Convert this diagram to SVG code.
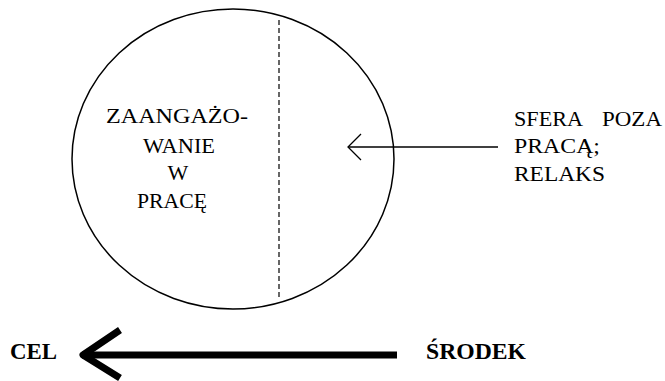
<svg xmlns="http://www.w3.org/2000/svg" width="665" height="381" viewBox="0 0 665 381">
<style>
text{font-family:'Liberation Serif','Times New Roman',serif;fill:#000}
.t{font-size:22px}
.b{font-size:23px;font-weight:bold}
.c{text-anchor:middle}
</style>
<rect width="665" height="381" fill="#fff"/>
<g id="circle">
<ellipse cx="233" cy="159" rx="161" ry="150" fill="none" stroke="#000" stroke-width="1.5"/>
<line x1="279" y1="20" x2="279" y2="297" stroke="#000" stroke-width="1.2" stroke-dasharray="5,3"/>
<text class="t c" x="177" y="123" textLength="142" lengthAdjust="spacingAndGlyphs">ZAANGAŻO-</text>
<text class="t c" x="179" y="153" textLength="72" lengthAdjust="spacingAndGlyphs">WANIE</text>
<text class="t c" x="178" y="180">W</text>
<text class="t c" x="172" y="208" textLength="70" lengthAdjust="spacingAndGlyphs">PRACĘ</text>
</g>
<g id="sfera">
<text class="t" y="126"><tspan x="514" textLength="69" lengthAdjust="spacingAndGlyphs">SFERA</tspan><tspan x="602" textLength="60" lengthAdjust="spacingAndGlyphs">POZA</tspan></text>
<text class="t" x="514" y="153" textLength="86" lengthAdjust="spacingAndGlyphs">PRACĄ;</text>
<text class="t" x="514" y="181" textLength="91" lengthAdjust="spacingAndGlyphs">RELAKS</text>
</g>
<g id="cel"><text class="b" x="10" y="359" textLength="47" lengthAdjust="spacingAndGlyphs">CEL</text></g>
<g id="srodek"><text class="b" x="426" y="359" textLength="100" lengthAdjust="spacingAndGlyphs">ŚRODEK</text></g>
<g id="connectors" fill="none" stroke="#000">
<line x1="498" y1="147" x2="348" y2="147" stroke-width="1.3"/>
<polyline points="361,134 348,147 361,160" stroke-width="1.3"/>
<line x1="397" y1="355" x2="82" y2="355" stroke-width="7"/>
<polyline points="120,330 83,355 120,378" stroke-width="7" stroke-linejoin="round"/>
</g>
</svg>
